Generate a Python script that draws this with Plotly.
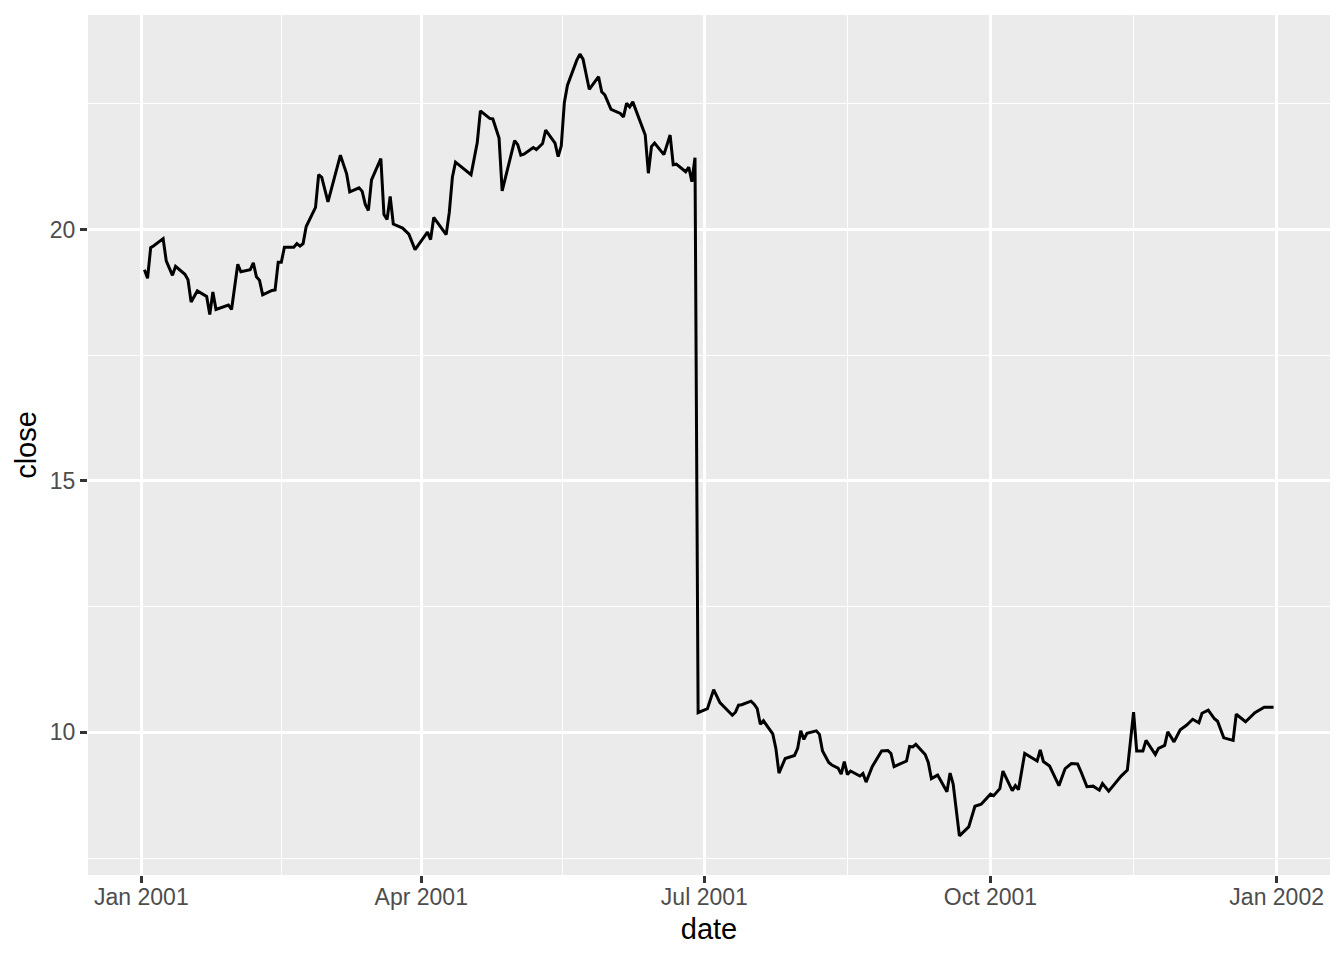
import pandas as pd
import plotly.graph_objects as go

# daily closing prices, 2001
dates = [
    "2001-01-02", "2001-01-03", "2001-01-04", "2001-01-05", "2001-01-08", "2001-01-09",
    "2001-01-11", "2001-01-12", "2001-01-15", "2001-01-16", "2001-01-17", "2001-01-19",
    "2001-01-22", "2001-01-23", "2001-01-24", "2001-01-25", "2001-01-29", "2001-01-30",
    "2001-02-01", "2001-02-02", "2001-02-05", "2001-02-06", "2001-02-07", "2001-02-08",
    "2001-02-09", "2001-02-12", "2001-02-13", "2001-02-14", "2001-02-15", "2001-02-16",
    "2001-02-19", "2001-02-20", "2001-02-21", "2001-02-22", "2001-02-23", "2001-02-26",
    "2001-02-27", "2001-02-28", "2001-03-02", "2001-03-06", "2001-03-08", "2001-03-09",
    "2001-03-12", "2001-03-13", "2001-03-14", "2001-03-15", "2001-03-16", "2001-03-19",
    "2001-03-20", "2001-03-21", "2001-03-22", "2001-03-23", "2001-03-26", "2001-03-28",
    "2001-03-30", "2001-04-03", "2001-04-04", "2001-04-05", "2001-04-09", "2001-04-10",
    "2001-04-11", "2001-04-12", "2001-04-17", "2001-04-19", "2001-04-20", "2001-04-23",
    "2001-04-24", "2001-04-26", "2001-04-27", "2001-05-01", "2001-05-02", "2001-05-03",
    "2001-05-04", "2001-05-07", "2001-05-08", "2001-05-10", "2001-05-11", "2001-05-14",
    "2001-05-15", "2001-05-16", "2001-05-17", "2001-05-18", "2001-05-21", "2001-05-22",
    "2001-05-23", "2001-05-25", "2001-05-28", "2001-05-29", "2001-05-30", "2001-06-01",
    "2001-06-04", "2001-06-05", "2001-06-06", "2001-06-07", "2001-06-08", "2001-06-12",
    "2001-06-13", "2001-06-14", "2001-06-15", "2001-06-18", "2001-06-20", "2001-06-21",
    "2001-06-22", "2001-06-25", "2001-06-26", "2001-06-27", "2001-06-28", "2001-06-29",
    "2001-07-02", "2001-07-04", "2001-07-06", "2001-07-10", "2001-07-11", "2001-07-12",
    "2001-07-13", "2001-07-16", "2001-07-17", "2001-07-18", "2001-07-19", "2001-07-20",
    "2001-07-23", "2001-07-24", "2001-07-25", "2001-07-27", "2001-07-30", "2001-07-31",
    "2001-08-01", "2001-08-02", "2001-08-03", "2001-08-06", "2001-08-07", "2001-08-08",
    "2001-08-10", "2001-08-11", "2001-08-13", "2001-08-14", "2001-08-15", "2001-08-16",
    "2001-08-17", "2001-08-20", "2001-08-21", "2001-08-22", "2001-08-24", "2001-08-27",
    "2001-08-29", "2001-08-30", "2001-08-31", "2001-09-03", "2001-09-04", "2001-09-05",
    "2001-09-06", "2001-09-07", "2001-09-10", "2001-09-11", "2001-09-12", "2001-09-14",
    "2001-09-17", "2001-09-18", "2001-09-19", "2001-09-21", "2001-09-24", "2001-09-26",
    "2001-09-28", "2001-10-01", "2001-10-02", "2001-10-04", "2001-10-05", "2001-10-08",
    "2001-10-09", "2001-10-10", "2001-10-12", "2001-10-16", "2001-10-17", "2001-10-18",
    "2001-10-20", "2001-10-23", "2001-10-25", "2001-10-27", "2001-10-29", "2001-10-30",
    "2001-11-01", "2001-11-03", "2001-11-05", "2001-11-06", "2001-11-08", "2001-11-10",
    "2001-11-12", "2001-11-14", "2001-11-16", "2001-11-17", "2001-11-19", "2001-11-20",
    "2001-11-23", "2001-11-24", "2001-11-26", "2001-11-27", "2001-11-29", "2001-12-01",
    "2001-12-03", "2001-12-05", "2001-12-07", "2001-12-08", "2001-12-10", "2001-12-12",
    "2001-12-13", "2001-12-15", "2001-12-18", "2001-12-19", "2001-12-22", "2001-12-25",
    "2001-12-28", "2001-12-31",
]
close = [
    19.20, 19.03, 19.64, 19.68, 19.82, 19.38,
    19.09, 19.27, 19.11, 19.00, 18.56, 18.78,
    18.67, 18.31, 18.76, 18.41, 18.50, 18.41,
    19.31, 19.16, 19.20, 19.34, 19.06, 18.99,
    18.70, 18.79, 18.80, 19.35, 19.35, 19.65,
    19.65, 19.72, 19.67, 19.72, 20.06, 20.44,
    21.09, 21.04, 20.55, 21.48, 21.11, 20.75,
    20.83, 20.76, 20.50, 20.38, 20.99, 21.41,
    20.30, 20.20, 20.66, 20.11, 20.03, 19.91,
    19.60, 19.95, 19.80, 20.24, 19.90, 20.34,
    21.04, 21.34, 21.09, 21.73, 22.36, 22.21,
    22.20, 21.82, 20.77, 21.77, 21.69, 21.48,
    21.50, 21.63, 21.59, 21.71, 21.98, 21.72,
    21.45, 21.66, 22.53, 22.87, 23.37, 23.49,
    23.39, 22.79, 23.04, 22.74, 22.68, 22.39,
    22.31, 22.24, 22.51, 22.44, 22.54, 21.88,
    21.12, 21.65, 21.72, 21.49, 21.88, 21.29,
    21.30, 21.15, 21.24, 20.95, 21.43, 10.39,
    10.47, 10.85, 10.59, 10.34, 10.40, 10.54,
    10.55, 10.62, 10.56, 10.47, 10.16, 10.23,
    9.97, 9.68, 9.19, 9.48, 9.54, 9.68,
    10.03, 9.86, 9.98, 10.03, 9.96, 9.63,
    9.40, 9.35, 9.29, 9.17, 9.42, 9.16,
    9.23, 9.13, 9.18, 9.01, 9.32, 9.63,
    9.64, 9.58, 9.32, 9.41, 9.43, 9.72,
    9.71, 9.76, 9.56, 9.40, 9.08, 9.15,
    8.82, 9.19, 8.97, 7.94, 8.12, 8.53,
    8.57, 8.77, 8.74, 8.88, 9.23, 8.84,
    8.94, 8.86, 9.58, 9.43, 9.65, 9.42,
    9.33, 8.94, 9.28, 9.38, 9.37, 9.23,
    8.92, 8.93, 8.85, 8.98, 8.83, 8.98,
    9.13, 9.25, 10.40, 9.63, 9.63, 9.84,
    9.56, 9.68, 9.74, 10.01, 9.81, 10.05,
    10.14, 10.26, 10.19, 10.38, 10.44, 10.27,
    10.22, 9.89, 9.84, 10.36, 10.21, 10.39,
    10.50, 10.50,
]

# axis breaks
x_ticks = ["2001-01-01", "2001-04-01", "2001-07-01", "2001-10-01", "2002-01-01"]
x_labels = ["Jan 2001", "Apr 2001", "Jul 2001", "Oct 2001", "Jan 2002"]
x_minor = ["2001-02-15", "2001-05-16 12:00", "2001-08-16", "2001-11-16"]
y_ticks = [10, 15, 20]
y_minor = [7.5, 12.5, 17.5, 22.5]

# ggplot-style 5% expansion
d = pd.to_datetime(dates)
xpad = (d.max() - d.min()) * 0.05
ypad = (max(close) - min(close)) * 0.05
x_range = [d.min() - xpad, d.max() + xpad]
y_range = [min(close) - ypad, max(close) + ypad]

FONT = "Liberation Sans, Arial, Helvetica, sans-serif"

fig = go.Figure(go.Scatter(
    x=d, y=close, mode="lines",
    line=dict(color="black", width=3),
    showlegend=False,
))

axis_common = dict(
    automargin=False,
    showgrid=True, gridcolor="white", gridwidth=2.8,
    zeroline=False, showline=False,
    ticks="outside", ticklen=7, tickwidth=2.8, tickcolor="#333333",
    tickfont=dict(family=FONT, size=23, color="#4D4D4D"),
)

# page body has an 8px margin, so the figure is sized to fit inside it
fig.update_layout(
    width=1336, height=952,
    paper_bgcolor="white",
    plot_bgcolor="#EBEBEB",
    margin=dict(l=80, r=14, t=7, b=85),
    font=dict(family=FONT),
    xaxis=dict(
        **axis_common,
        type="date",
        range=x_range,
        tickmode="array", tickvals=x_ticks, ticktext=x_labels,
        minor=dict(tickmode="array", tickvals=x_minor, showgrid=True,
                   gridcolor="white", gridwidth=1.4, ticks=""),
        ticklabelstandoff=-6,
        title=dict(text="date", font=dict(family=FONT, size=29, color="black"), standoff=10),
    ),
    yaxis=dict(
        **axis_common,
        range=y_range,
        tickmode="array", tickvals=y_ticks,
        minor=dict(tickmode="array", tickvals=y_minor, showgrid=True,
                   gridcolor="white", gridwidth=1.4, ticks=""),
        title=dict(text="close", font=dict(family=FONT, size=29, color="black"), standoff=4),
    ),
)

fig.write_html("out.html")
